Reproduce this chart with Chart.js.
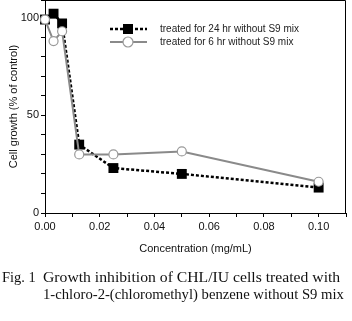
<!DOCTYPE html>
<html>
<head>
<meta charset="utf-8">
<script src="https://cdn.jsdelivr.net/npm/chart.js@4.4.0/dist/chart.umd.min.js"></script>
<style>
  body { margin: 0; background: #fff; }
  #wrap { position: relative; width: 352px; height: 321px; }
  #cv { position: absolute; left: 0; top: 0; }
  .cap { position: absolute; font-family: "Liberation Serif", "DejaVu Serif", serif; font-size: 14px; color: #111; white-space: nowrap; transform-origin: left center; line-height: 16px; }
</style>
</head>
<body>
<div id="wrap">
  <canvas id="cv" width="352" height="321"></canvas>
  <div class="cap" id="figno" style="left:2px; top:270px;">Fig. 1</div>
  <div class="cap" id="cap1" style="left:43px; top:270px;">Growth inhibition of CHL/IU cells treated with</div>
  <div class="cap" id="cap2" style="left:43px; top:287px;">1-chloro-2-(chloromethyl) benzene without S9 mix</div>
</div>
<script>
// concentrations (mg/mL)
var concentrations = [0, 0.003125, 0.00625, 0.0125, 0.025, 0.05, 0.1];
// cell growth, % of control
var growth24hr = [99, 102, 97, 35, 23, 20, 13];
var growth6hr = [99, 88, 93, 30, 30, 31.5, 16];
var seriesNames = ['treated for 24 hr without S9 mix', 'treated for 6 hr without S9 mix'];

function toPoints(ys) {
  return concentrations.map(function (x, i) { return { x: x, y: ys[i] }; });
}

function noPad(s) {
  s.paddingTop = 0; s.paddingBottom = 0;
  s.paddingLeft = 0; s.paddingRight = 0;
}

// frame around plot + legend drawn inside the plot
var frameAndLegend = {
  id: 'frameAndLegend',
  afterDatasetsDraw: function (chart) {
    var c = chart.ctx, a = chart.chartArea;
    c.save();
    c.strokeStyle = '#000';
    c.lineWidth = 1;
    c.beginPath();
    c.moveTo(a.left, a.top + 0.5);
    c.lineTo(a.right - 0.5, a.top + 0.5);
    c.lineTo(a.right - 0.5, a.bottom);
    c.stroke();

    var x0 = 110, x1 = 147, mx = 128;
    var rows = [29, 42];
    chart.data.datasets.forEach(function (ds, i) {
      var y = rows[i];
      c.save();
      c.strokeStyle = ds.borderColor;
      c.lineWidth = ds.borderWidth;
      c.setLineDash(ds.borderDash || []);
      c.beginPath();
      c.moveTo(x0, y);
      c.lineTo(x1, y);
      c.stroke();
      c.setLineDash([]);
      if (ds.pointStyle === 'rect') {
        c.fillStyle = '#000';
        c.fillRect(mx - 5, y - 5, 10, 10);
      } else {
        c.fillStyle = '#fff';
        c.strokeStyle = ds.pointBorderColor;
        c.lineWidth = 1.2;
        c.beginPath();
        c.arc(mx, y, 5, 0, Math.PI * 2);
        c.fill();
        c.stroke();
      }
      c.fillStyle = '#222';
      c.font = '10px "Liberation Sans", Arial, sans-serif';
      c.textBaseline = 'middle';
      c.fillText(ds.label, 160, y);
      c.restore();
    });
    c.restore();
  }
};

var ctx = document.getElementById('cv').getContext('2d');
var chart = new Chart(ctx, {
  type: 'line',
  data: {
    datasets: [{
      label: seriesNames[0],
      data: toPoints(growth24hr),
      borderColor: '#000',
      borderWidth: 2.5,
      borderDash: [3, 2],
      pointStyle: 'rect',
      pointRadius: 7,
      pointBackgroundColor: '#000',
      pointBorderColor: '#000',
      pointBorderWidth: 0,
      clip: false,
      order: 2
    }, {
      label: seriesNames[1],
      data: toPoints(growth6hr),
      borderColor: '#8a8a8a',
      borderWidth: 2,
      pointStyle: 'circle',
      pointRadius: 4.5,
      pointBackgroundColor: '#fff',
      pointBorderColor: '#999',
      pointBorderWidth: 1.2,
      clip: false,
      order: 1
    }]
  },
  options: {
    responsive: false,
    animation: false,
    layout: { autoPadding: false, padding: { top: 0, right: 6, bottom: 61, left: 0 } },
    plugins: { legend: { display: false }, tooltip: { enabled: false } },
    scales: {
      x: {
        type: 'linear',
        min: 0,
        max: 0.11,
        afterFit: function (s) { s.height = 47; noPad(s); },
        border: { color: '#000', width: 1 },
        grid: { drawOnChartArea: false, tickLength: 4, color: '#000' },
        ticks: {
          stepSize: 0.01,
          padding: 3,
          maxRotation: 0,
          autoSkip: false,
          color: '#111',
          font: { family: '"Liberation Sans", Arial, sans-serif', size: 11 },
          callback: function (v) {
            var k = Math.round(v * 100);
            return (k % 2 === 0 && k <= 10) ? (k / 100).toFixed(2) : '';
          }
        },
        title: {
          display: true,
          text: 'Concentration (mg/mL)',
          color: '#111',
          font: { family: '"Liberation Sans", Arial, sans-serif', size: 11 },
          padding: { top: 0, bottom: 4 }
        }
      },
      y: {
        min: 0,
        max: 109,
        afterFit: function (s) { s.width = 45; noPad(s); },
        border: { color: '#000', width: 1 },
        grid: { drawOnChartArea: false, tickLength: 4, color: '#000' },
        ticks: {
          stepSize: 10,
          padding: 2,
          autoSkip: false,
          color: '#111',
          font: { family: '"Liberation Sans", Arial, sans-serif', size: 11 },
          callback: function (v) { return (v % 50 === 0) ? String(v) : ''; }
        },
        title: {
          display: true,
          text: 'Cell growth (% of control)',
          color: '#111',
          font: { family: '"Liberation Sans", Arial, sans-serif', size: 11 },
          padding: { top: 7, bottom: 0 }
        }
      }
    }
  },
  plugins: [frameAndLegend]
});

// stretch caption lines to the widths in the figure
function fit(id, w) {
  var el = document.getElementById(id);
  el.style.transform = 'scaleX(' + (w / el.offsetWidth) + ')';
}
fit('figno', 34);
fit('cap1', 297);
fit('cap2', 301);
</script>
</body>
</html>
